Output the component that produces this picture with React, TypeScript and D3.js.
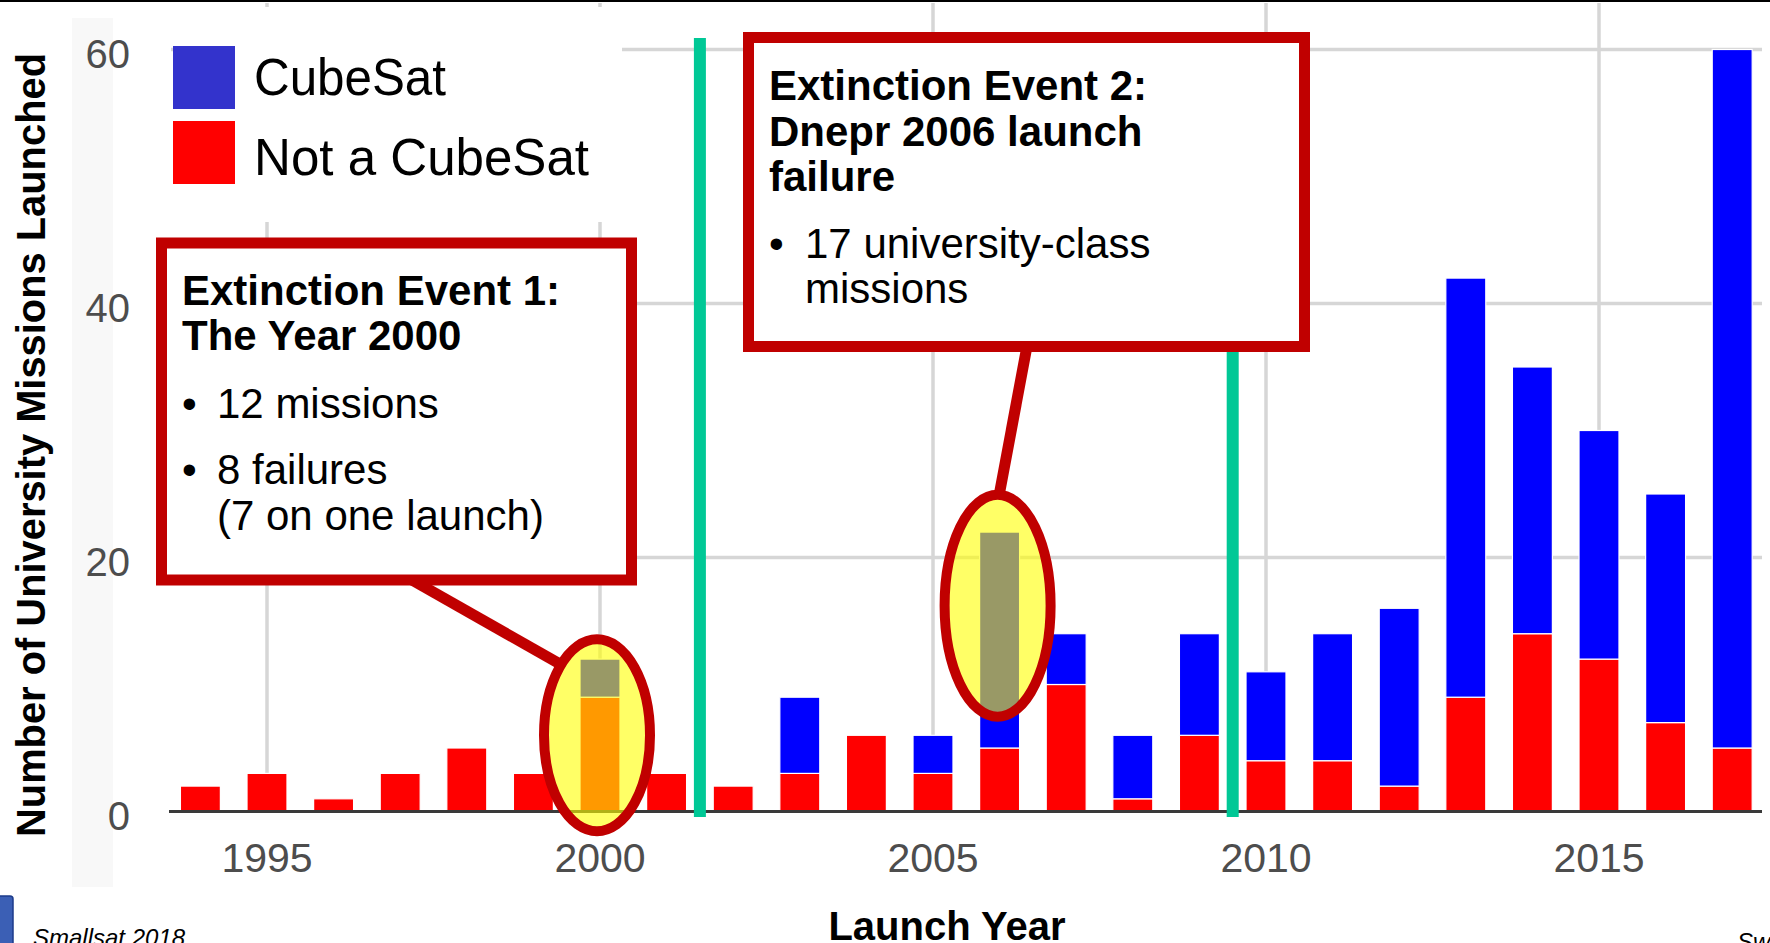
import React from 'react';
import { scaleLinear } from 'd3';

// launch years and mission counts
const years = [1994, 1995, 1996, 1997, 1998, 1999, 2000, 2001, 2002, 2003, 2004, 2005,
  2006, 2007, 2008, 2009, 2010, 2011, 2012, 2013, 2014, 2015, 2016, 2017];
const notCubeSat = [2, 3, 1, 3, 5, 3, 9, 3, 2, 3, 6, 3, 5, 10, 1, 6, 4, 4, 2, 9, 14, 12, 7, 5];
const cubeSat = [0, 0, 0, 0, 0, 0, 3, 0, 0, 6, 0, 3, 17, 4, 5, 8, 7, 10, 14, 33, 21, 18, 18, 55];
const yearTicks = [1995, 2000, 2005, 2010, 2015];
const countTicks = [0, 20, 40, 60];
const eventLines = [2001.5, 2009.5];

const FONT = '"Liberation Sans", Arial, Helvetica, sans-serif';
const BOX_RED = '#c00000';

const x = scaleLinear().domain([1993.5, 2017.5]).range([167.1, 1765.5]);
const y = scaleLinear().domain([0, 60]).range([811.5, 49.5]);
const barW = (x(1) - x(0)) * 0.6;

const App = () => {
  return (
    <svg width={1770} height={943} style={{ position: 'absolute', left: 0, top: 0 }}
      fontFamily={FONT}>
      <rect width={1770} height={943} fill="#fff" />
      <rect x={0} y={0} width={1770} height={2} fill="#000" />
      <rect x={72} y={18} width={41} height={869} fill="#f8f8f8" />

      {/* grid */}
      {yearTicks.map(t => (
        <line key={'vx' + t} x1={x(t)} x2={x(t)} y1={3} y2={y(0)} stroke="#d6d6d6" strokeWidth={3.5} />
      ))}
      {countTicks.filter(t => t > 0).map(t => (
        <line key={'hy' + t} x1={171} x2={1762} y1={y(t)} y2={y(t)} stroke="#d6d6d6" strokeWidth={3.5} />
      ))}

      {/* stacked bars */}
      {years.map((yr, i) => (
        <g key={yr}>
          <rect x={x(yr) - barW / 2} width={barW} y={y(notCubeSat[i])}
            height={y(0) - y(notCubeSat[i])} fill="#ff0000" stroke="#fff" strokeWidth={1.2} />
          {cubeSat[i] > 0 && (
            <rect x={x(yr) - barW / 2} width={barW} y={y(notCubeSat[i] + cubeSat[i])}
              height={y(notCubeSat[i]) - y(notCubeSat[i] + cubeSat[i])} fill="#0000ff"
              stroke="#fff" strokeWidth={1.2} />
          )}
        </g>
      ))}

      <line x1={169} x2={1762} y1={y(0)} y2={y(0)} stroke="#3a3a3a" strokeWidth={3} />

      {/* axis labels */}
      {countTicks.map(t => (
        <text key={'yl' + t} x={130} y={y(t) + 18} textAnchor="end" fontSize={40} fill="#4d4d4d">{t}</text>
      ))}
      {yearTicks.map(t => (
        <text key={'xl' + t} x={x(t)} y={872} textAnchor="middle" fontSize={41} fill="#4d4d4d">{t}</text>
      ))}
      <text transform="translate(45,445) rotate(-90)" textAnchor="middle" fontSize={40}
        fontWeight="bold" fill="#000" textLength={784} lengthAdjust="spacingAndGlyphs">
        Number of University Missions Launched
      </text>
      <text x={947} y={940} textAnchor="middle" fontSize={40} fontWeight="bold" fill="#000">Launch Year</text>

      {/* event markers */}
      {eventLines.map(v => (
        <line key={'ev' + v} x1={x(v)} x2={x(v)} y1={38} y2={817} stroke="#00c896" strokeWidth={12} />
      ))}

      {/* legend */}
      <rect x={176} y={7} width={446} height={215} fill="#fff" />
      <rect x={173} y={46} width={62} height={63} fill="#3333cc" />
      <rect x={173} y={121} width={62} height={63} fill="#ff0000" />
      <text x={254} y={95} fontSize={52} fill="#000" textLength={192} lengthAdjust="spacingAndGlyphs">CubeSat</text>
      <text x={254} y={175} fontSize={52} fill="#000" textLength={335} lengthAdjust="spacingAndGlyphs">Not a CubeSat</text>

      {/* annotation 1 */}
      <line x1={412} y1={580} x2={560} y2={664} stroke={BOX_RED} strokeWidth={11} />
      <rect x={161.5} y={243} width={470} height={337} fill="#fff" stroke={BOX_RED} strokeWidth={11} />
      <g fontSize={42} fill="#000">
        <text x={182} y={305} fontWeight="bold">Extinction Event 1:</text>
        <text x={182} y={350} fontWeight="bold">The Year 2000</text>
        <text x={182} y={418}>•</text>
        <text x={217} y={418}>12 missions</text>
        <text x={182} y={484}>•</text>
        <text x={217} y={484}>8 failures</text>
        <text x={217} y={530}>(7 on one launch)</text>
      </g>

      {/* annotation 2 */}
      <line x1={1027} y1={346} x2={999} y2={496} stroke={BOX_RED} strokeWidth={11} />
      <rect x={748.5} y={37.5} width={556} height={309} fill="#fff" stroke={BOX_RED} strokeWidth={11} />
      <g fontSize={42} fill="#000">
        <text x={769} y={100} fontWeight="bold">Extinction Event 2:</text>
        <text x={769} y={146} fontWeight="bold">Dnepr 2006 launch</text>
        <text x={769} y={191} fontWeight="bold">failure</text>
        <text x={769} y={258}>•</text>
        <text x={805} y={258}>17 university-class</text>
        <text x={805} y={303}>missions</text>
      </g>

      {/* highlight ellipses */}
      <ellipse cx={x(2000) - 3} cy={y(6)} rx={53} ry={96} fill="#ffff00" fillOpacity={0.6}
        stroke={BOX_RED} strokeWidth={10} />
      <ellipse cx={x(2006) - 2} cy={y(16.2)} rx={53} ry={111} fill="#ffff00" fillOpacity={0.6}
        stroke={BOX_RED} strokeWidth={10} />

      {/* slide footer */}
      <rect x={-4} y={896} width={17} height={50} rx={3} fill="#3b5fb5" stroke="#1d3b8a" strokeWidth={1.5} />
      <text x={33} y={946} fontSize={24} fontStyle="italic" fill="#000">Smallsat 2018</text>
      <text x={1737} y={950} fontSize={24} fontStyle="italic" fill="#000">Swartwout</text>
    </svg>
  );
};

export default App;
